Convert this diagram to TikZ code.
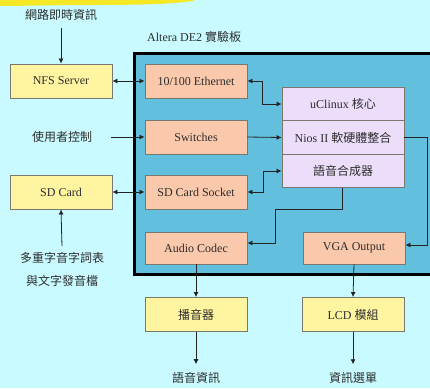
\documentclass[tikz,border=0pt]{standalone}
\usepackage{fontspec}
\setmainfont{Liberation Serif}
\newfontfamily\cjk{Noto Sans CJK TC}
\usetikzlibrary{arrows.meta}
\definecolor{bgc}{RGB}{200,250,255}
\definecolor{boardc}{RGB}{98,192,222}
\definecolor{salmonc}{RGB}{250,200,170}
\definecolor{yelc}{RGB}{255,244,160}
\definecolor{purc}{RGB}{236,222,250}
\definecolor{edgec}{RGB}{120,120,110}
\definecolor{linec}{RGB}{35,35,35}
\definecolor{txtc}{RGB}{45,45,45}
\tikzset{
  x=1pt, y=-1pt,
  every node/.style={font=\fontsize{12}{14}\selectfont, text=txtc},
  basebox/.style={draw=edgec, line width=0.9pt, rectangle, minimum width=102pt, minimum height=34pt, inner sep=1pt},
  ybox/.style={basebox, fill=yelc},
  sbox/.style={basebox, fill=salmonc},
  pbox/.style={basebox, fill=purc, minimum width=122pt, minimum height=33.5pt},
  lbl/.style={inner sep=1pt},
  arr/.style={draw=linec, line width=0.8pt, -{Latex[length=5pt,width=5pt]}},
  darr/.style={draw=linec, line width=0.8pt, {Latex[length=5pt,width=5pt]}-{Latex[length=5pt,width=5pt]}},
}
\begin{document}
\begin{tikzpicture}
\useasboundingbox (0,0) rectangle (430,388);
\fill[bgc] (0,0) rectangle (430,388);
% yellow smear at top
\fill[yellow!90!orange, opacity=0.85] (0,0) -- (195,0) .. controls (190,3) and (150,5) .. (100,5) .. controls (50,5) and (20,6) .. (0,6) -- cycle;
% board
\begin{scope}
\clip (0,0) rectangle (430,388);
\draw[fill=boardc, line width=3pt, draw=black] (134.5,53.5) rectangle (440,274.5);
\end{scope}
\node[lbl, anchor=west] (alt) at (146,37) {Altera DE2 {\cjk 實驗板}};

% left yellow boxes
\node[ybox] (nfs) at (61,81) {NFS Server};
\node[ybox] (sdc) at (61,192) {SD Card};

% salmon boxes
\node[sbox] (eth) at (196,81) {10/100 Ethernet};
\node[sbox] (sw) at (196,137) {Switches};
\node[sbox] (sock) at (196,192) {SD Card Socket};
\node[sbox, minimum height=32pt] (codec) at (196,248) {Audio Codec};
\node[sbox, minimum height=32pt] (vga) at (354,248) {VGA Output};

% purple stack
\node[pbox] (ucl) at (343,104) {uClinux {\cjk 核心}};
\node[pbox] (nios) at (343,137.5) {Nios II {\cjk 軟硬體整合}};
\node[pbox] (syn) at (343,171) {\cjk 語音合成器};

% bottom yellow boxes
\node[ybox] (spk) at (196,314.5) {\cjk 播音器};
\node[ybox] (lcd) at (353,314.5) {LCD {\cjk 模組}};

% text labels
\node[lbl] (t1) at (61,15) {\cjk 網路即時資訊};
\node[lbl] (t2) at (62,137) {\cjk 使用者控制};
\node[lbl] (t3) at (62,258) {\cjk 多重字音字詞表};
\node[lbl] (t3b) at (62,281) {\cjk 與文字發音檔};
\node[lbl] (t4) at (196,378) {\cjk 語音資訊};
\node[lbl] (t5) at (353,378) {\cjk 資訊選單};

% connectors
\draw[arr] ([yshift=-6pt]t1.south) -- (nfs.north);
\draw[darr] (nfs.east) -- (eth.west);
\draw[darr] (eth.east) -- ++(15,0) |- (ucl.west);
\draw[arr] ([xshift=18pt]t2.east) -- (sw.west);
\draw[arr] (sw.east) -- (nios.west);
\draw[darr] (sdc.east) -- (sock.west);
\draw[darr] (sock.east) -- ++(16,0) |- (syn.west);
\draw[arr] ([yshift=5pt]t3.north) -- (sdc.south);
\draw[arr] ([xshift=-1pt]syn.south) -- ++(0,21) -| ([xshift=28pt,yshift=5pt]codec.east) -- ([yshift=5pt]codec.east);
\draw[arr] (nios.east) -- ++(23,0) |- ([yshift=3pt]vga.east);
\draw[arr] (codec.south) -- (spk.north);
\draw[arr] (vga.south) -- (lcd.north);
\draw[arr] (spk.south) -- ([yshift=7pt]t4.north);
\draw[arr] (lcd.south) -- ([yshift=7pt]t5.north);
\end{tikzpicture}
\end{document}
